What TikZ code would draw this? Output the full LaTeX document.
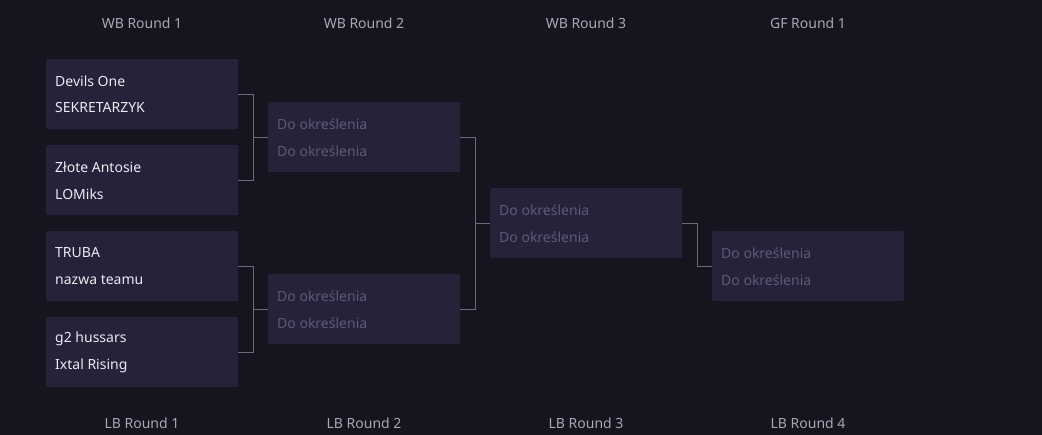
\documentclass[tikz,border=0pt]{standalone}
\usepackage{fontspec}
\setmainfont{Noto Sans}
\definecolor{bg}{HTML}{16141F}
\definecolor{boxfill}{HTML}{272239}
\definecolor{teamtext}{HTML}{ECEAF2}
\definecolor{tbdtext}{HTML}{5F5878}
\definecolor{headtext}{HTML}{A8A7B4}
\definecolor{linecol}{HTML}{6C6A7A}
\tikzset{
  matchbox/.style={fill=boxfill, draw=none, rounded corners=2pt, minimum width=192pt, minimum height=70pt, inner sep=0pt, anchor=north west},
  teamlbl/.style={anchor=west, inner sep=0pt, text=teamtext, font=\fontsize{14}{16}\selectfont},
  tbdlbl/.style={anchor=west, inner sep=0pt, text=tbdtext, font=\fontsize{14}{16}\selectfont},
  headlbl/.style={anchor=center, inner sep=0pt, text=headtext, font=\fontsize{14}{16}\selectfont},
  conn/.style={draw=linecol, line width=1pt},
}
\newcommand{\mymatch}[6]{%
  \node[matchbox] (#1) at (#2,#3) {};
  \node[#6] (#1a) at ([xshift=9pt,yshift=-22pt]#1.north west) {#4};
  \node[#6] (#1b) at ([xshift=9pt,yshift=-49pt]#1.north west) {#5};
}
\begin{document}
\begin{tikzpicture}[x=1pt,y=-1pt]
\fill[bg] (0,0) rectangle (1042,435);
\useasboundingbox (0,0) rectangle (1042,435);
% headers
\node[headlbl] (h1) at (142,23) {WB Round 1};
\node[headlbl] (h2) at (364,23) {WB Round 2};
\node[headlbl] (h3) at (586,23) {WB Round 3};
\node[headlbl] (h4) at (808,23) {GF Round 1};
\node[headlbl] (l1) at (142,423) {LB Round 1};
\node[headlbl] (l2) at (364,423) {LB Round 2};
\node[headlbl] (l3) at (586,423) {LB Round 3};
\node[headlbl] (l4) at (808,423) {LB Round 4};
% round 1
\mymatch{m1}{46}{59}{Devils One}{SEKRETARZYK}{teamlbl}
\mymatch{m2}{46}{145}{Złote Antosie}{LOMiks}{teamlbl}
\mymatch{m3}{46}{231}{TRUBA}{nazwa teamu}{teamlbl}
\mymatch{m4}{46}{317}{g2 hussars}{Ixtal Rising}{teamlbl}
% round 2
\mymatch{m5}{268}{102}{Do określenia}{Do określenia}{tbdlbl}
\mymatch{m6}{268}{274}{Do określenia}{Do określenia}{tbdlbl}
% round 3
\mymatch{m7}{490}{188}{Do określenia}{Do określenia}{tbdlbl}
% GF
\mymatch{m8}{712}{231}{Do określenia}{Do określenia}{tbdlbl}
% connectors
\draw[conn] (m1.east) -| ([xshift=15pt]m1.east) |- (m2.east);
\draw[conn] ([xshift=15pt]m1.east |- m5.west) -- (m5.west);
\draw[conn] (m3.east) -| ([xshift=15pt]m3.east) |- (m4.east);
\draw[conn] ([xshift=15pt]m3.east |- m6.west) -- (m6.west);
\draw[conn] (m5.east) -| ([xshift=15pt]m5.east) |- (m6.east);
\draw[conn] ([xshift=15pt]m5.east |- m7.west) -- (m7.west);
\draw[conn] (m7.east) -| ([xshift=15pt]m7.east) |- (m8.west);
\end{tikzpicture}
\end{document}
